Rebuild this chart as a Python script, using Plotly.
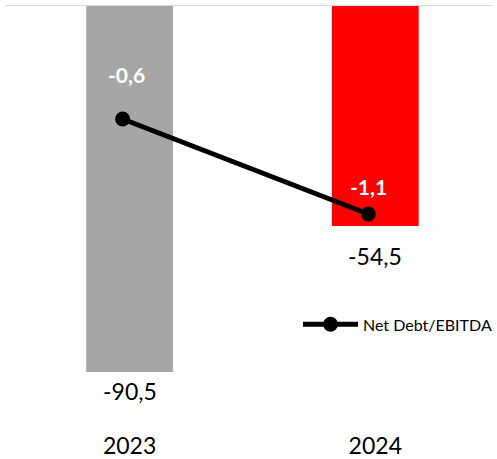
import plotly.graph_objects as go

categories = ["2023", "2024"]
net_debt = [-90.5, -54.5]
ratio = [-0.6, -1.1]
bar_labels = ["-90,5", "-54,5"]
ratio_labels = ["-0,6", "-1,1"]
bar_colors = ["#a6a6a6", "#ff0000"]

FONT = "Lato, 'Open Sans', sans-serif"

fig = go.Figure()
fig.add_trace(go.Bar(
    x=categories, y=net_debt, marker=dict(color=bar_colors, line=dict(width=0)),
    showlegend=False, hoverinfo="skip", xaxis="x", yaxis="y",
))
fig.add_trace(go.Scatter(
    x=categories, y=ratio, mode="lines+markers", name="Net Debt/EBITDA",
    line=dict(color="black", width=5), marker=dict(color="black", size=15),
    xaxis="x2", yaxis="y2",
))

bar_label_shift = [-19, -30]
for i, (v, t, s) in enumerate(zip(net_debt, bar_labels, bar_label_shift)):
    fig.add_annotation(x=i, y=v, xref="x", yref="y", text=t, showarrow=False,
                       yanchor="middle", yshift=s, font=dict(size=23, color="black", family=FONT))

ratio_shift = [(4, 45), (0, 28)]
for i, (v, t, (dx, dy)) in enumerate(zip(ratio, ratio_labels, ratio_shift)):
    fig.add_annotation(x=i, y=v, xref="x2", yref="y2", text="<b>" + t + "</b>", showarrow=False,
                       xshift=dx, yshift=dy, yanchor="middle",
                       font=dict(size=21, color="white", family=FONT))

fig.add_shape(type="line", xref="paper", yref="y", x0=0, x1=1, y0=0, y1=0,
              line=dict(color="#d9d9d9", width=2), layer="above")

R0, R1 = -0.503, 1.479
SH = 7 / 246.2
fig.update_layout(
    width=497, height=459,
    margin=dict(l=6, r=0, t=5, b=31),
    paper_bgcolor="white", plot_bgcolor="white",
    bargap=0.647,
    font=dict(family=FONT, color="black"),
    xaxis=dict(type="category", showgrid=False, showline=False, ticks="", ticklabelstandoff=2,
               tickfont=dict(size=23, color="black", family=FONT), range=[R0, R1]),
    xaxis2=dict(type="category", overlaying="x", showticklabels=False, showgrid=False,
                range=[R0 + SH, R1 + SH]),
    yaxis=dict(range=[-104.3, 0], showgrid=False, zeroline=False, showticklabels=False, showline=False),
    yaxis2=dict(range=[-2.226, 0], overlaying="y", showgrid=False, zeroline=False,
                showticklabels=False, showline=False),
    legend=dict(x=0.6, y=0.245, xanchor="left", yanchor="middle", bgcolor="rgba(0,0,0,0)",
                font=dict(size=16, color="black", family=FONT), itemwidth=55),
    showlegend=True,
)

fig.write_html("out.html", config={"displayModeBar": False},
               post_script="document.body.style.margin='0';")
